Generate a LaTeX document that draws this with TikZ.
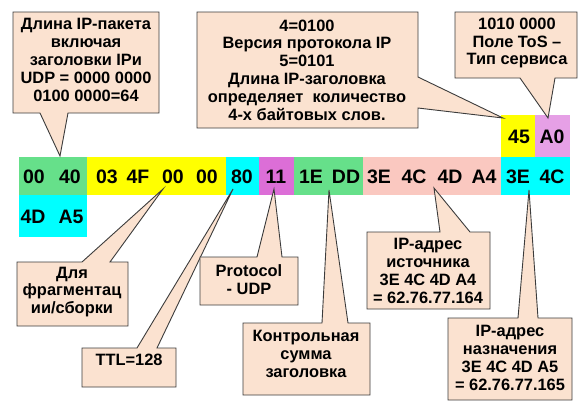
\documentclass[tikz,border=0pt]{standalone}
\usepackage{fontspec}
\setmainfont{Liberation Sans}
\definecolor{cgreen}{RGB}{102,224,138}
\definecolor{cyellow}{RGB}{255,255,0}
\definecolor{ccyan}{RGB}{0,255,255}
\definecolor{cmag}{RGB}{220,110,215}
\definecolor{cviolet}{RGB}{230,160,230}
\definecolor{cpink}{RGB}{250,200,192}
\definecolor{cpeach}{RGB}{251,226,208}
\definecolor{cborder}{RGB}{60,60,60}
\begin{document}
\begin{tikzpicture}[x=1pt,y=-1pt,
 cellbox/.style={inner sep=0,outer sep=0,draw=none},
 byte/.style={font=\fontsize{19.5}{21}\selectfont\bfseries, inner sep=0},
 callout/.style={fill=cpeach, draw=cborder, line width=0.9pt, line join=miter},
 ctext/.style={font=\fontsize{16.4}{17.8}\selectfont\bfseries, align=center, inner sep=0}]
\useasboundingbox (0,0) rectangle (581,408);
\fill[white] (0,0) rectangle (581,408);

% cells
\node[cellbox, fill=cgreen,  minimum width=68,  minimum height=38] (g1) at (53,176) {};
\node[cellbox, fill=cyellow, minimum width=139, minimum height=38] (y1) at (156.5,176) {};
\node[cellbox, fill=ccyan,   minimum width=33,  minimum height=38] (c1) at (242.5,176) {};
\node[cellbox, fill=cmag,    minimum width=35,  minimum height=38] (m1) at (276.5,176) {};
\node[cellbox, fill=cgreen,  minimum width=69,  minimum height=38] (g2) at (328.5,176) {};
\node[cellbox, fill=cpink,   minimum width=138, minimum height=38] (p1) at (432,176) {};
\node[cellbox, fill=ccyan,   minimum width=69,  minimum height=38] (c2) at (535.5,176) {};
\node[cellbox, fill=cyellow, minimum width=34,  minimum height=42] (y2) at (518,136) {};
\node[cellbox, fill=cviolet, minimum width=35,  minimum height=42] (v1) at (552.5,136) {};
\node[cellbox, fill=ccyan,   minimum width=68,  minimum height=42] (c3) at (53,216) {};

% bytes
\node[byte] (b1) at (34,177) {00};
\node[byte] (b2) at (70,177) {40};
\node[byte] (b3) at (107,177) {03};
\node[byte] (b4) at (138,177) {4F};
\node[byte] (b5) at (173,177) {00};
\node[byte] (b6) at (207,177) {00};
\node[byte] (b7) at (242,177) {80};
\node[byte] (b8) at (276,177) {11};
\node[byte] (b9) at (311,177) {1E};
\node[byte] (b10) at (346,177) {DD};
\node[byte] (b11) at (379,177) {3E};
\node[byte] (b12) at (414,177) {4C};
\node[byte] (b13) at (450,177) {4D};
\node[byte] (b14) at (484,177) {A4};
\node[byte] (b15) at (518,177) {3E};
\node[byte] (b16) at (552,177) {4C};
\node[byte] (b17) at (519,137) {45};
\node[byte] (b18) at (552,137) {A0};
\node[byte] (b19) at (33,217) {4D};
\node[byte] (b20) at (71,217) {A5};

% pointer tips
\coordinate (t1) at (60,156);
\coordinate (t2) at (503,118);
\coordinate (t3) at (548,118);
\coordinate (t4) at (163,189);
\coordinate (t5) at (233,189);
\coordinate (t6) at (274,189);
\coordinate (t7) at (329,190);
\coordinate (t8) at (434,188);
\coordinate (t9) at (529,190);

% callouts
\filldraw[callout] (13,12) -- (159,12) -- (159,113) -- (68,113) -- (t1) -- (40,113) -- (13,113) -- cycle;
\filldraw[callout] (197,12) -- (418,12) -- (418,77) -- (t2) -- (418,108) -- (418,128) -- (197,128) -- cycle;
\filldraw[callout] (455,12) -- (577,12) -- (577,78) -- (555,78) -- (t3) -- (520,78) -- (455,78) -- cycle;
\filldraw[callout] (17,262) -- (82,262) -- (t4) -- (110,262) -- (128,262) -- (128,326) -- (17,326) -- cycle;
\filldraw[callout] (82,348) -- (137,348) -- (t5) -- (157,348) -- (176,348) -- (176,387) -- (82,387) -- cycle;
\filldraw[callout] (200,257) -- (257,257) -- (t6) -- (282,257) -- (298,257) -- (298,305) -- (200,305) -- cycle;
\filldraw[callout] (243,323) -- (322,323) -- (t7) -- (348,323) -- (370,323) -- (370,395) -- (243,395) -- cycle;
\filldraw[callout] (367,232) -- (440,232) -- (t8) -- (470,232) -- (490,232) -- (490,309) -- (367,309) -- cycle;
\filldraw[callout] (448,318) -- (518,318) -- (t9) -- (538,318) -- (572,318) -- (572,400) -- (448,400) -- cycle;

% callout texts
\node[ctext] (x1) at (86,60) {Длина IP-пакета\\включая\\заголовки IPи\\UDP = 0000 0000\\0100 0000=64};
\node[ctext] (x2) at (307,70) {4=0100\\Версия протокола IP\\5=0101\\Длина IP-заголовка\\определяет\ \ количество\\4-х байтовых слов.};
\node[ctext] (x3) at (517,43) {1010 0000\\Поле ToS –\\Тип сервиса};
\node[ctext] (x4) at (72,292) {Для\\фрагментац\\ии/сборки};
\node[ctext] (x5) at (129,360) {TTL=128};
\node[ctext] (x6) at (249,280) {Protocol\\- UDP};
\node[ctext] (x7) at (306,354) {Контрольная\\сумма\\заголовка};
\node[ctext] (x8) at (428,271) {IP-адрес\\источника\\3E 4C 4D A4\\= 62.76.77.164};
\node[ctext] (x9) at (510,358) {IP-адрес\\назначения\\3E 4C 4D A5\\= 62.76.77.165};
\end{tikzpicture}
\end{document}
